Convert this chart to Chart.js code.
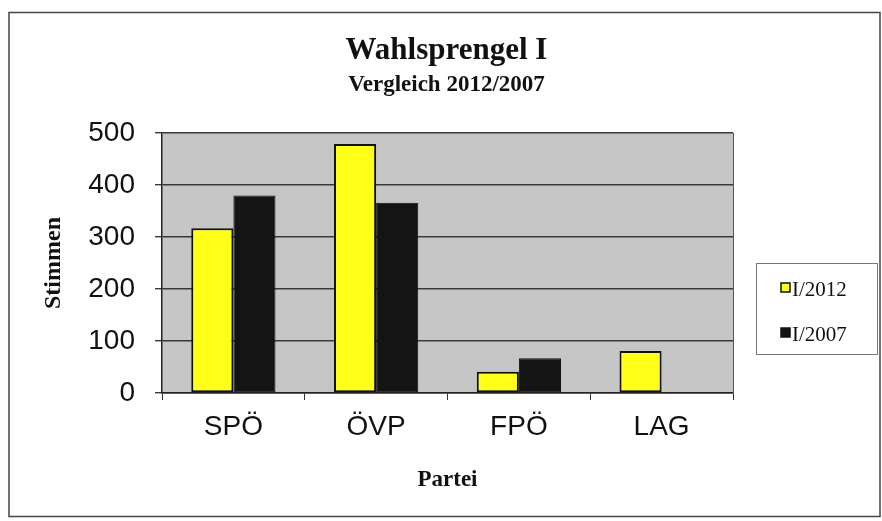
<!DOCTYPE html>
<html lang="de">
<head>
    <meta charset="UTF-8">
    <title>Wahlsprengel I</title>
    <script src="https://cdn.jsdelivr.net/npm/chart.js"></script>
    <style>
        body { margin: 0; background: #fff; }
    </style>
</head>
<body>
    <canvas id="chart" width="882" height="521"></canvas>

    <script>
        // data
        const parteien = ['SPÖ', 'ÖVP', 'FPÖ', 'LAG'];
        const stimmen2012 = [317, 479, 41, 81];
        const stimmen2007 = [380, 366, 67, null];
        const yTicks = [0, 100, 200, 300, 400, 500];
        const titel = 'Wahlsprengel I';
        const untertitel = 'Vergleich 2012/2007';

        const serif = '"Liberation Serif", "Times New Roman", serif';
        const sans = '"Liberation Sans", Arial, sans-serif';

        // gray plot background, titles, outer frame and legend box
        const decor = {
            id: 'decor',
            beforeDraw(chart) {
                const { ctx, chartArea: a } = chart;
                ctx.save();
                ctx.fillStyle = '#c6c6c6';
                ctx.fillRect(a.left, a.top, a.right - a.left, a.bottom - a.top);
                ctx.restore();
            },
            afterDraw(chart) {
                const { ctx, chartArea: a } = chart;
                const cx = (a.left + a.right) / 2;
                ctx.save();
                // titles
                ctx.fillStyle = '#111';
                ctx.textAlign = 'center';
                ctx.textBaseline = 'alphabetic';
                ctx.font = 'bold 31px ' + serif;
                ctx.fillText(titel, cx - 1, 59);
                ctx.font = 'bold 23px ' + serif;
                ctx.fillText(untertitel, cx - 1, 91);
                // right edge of plot
                ctx.strokeStyle = '#555';
                ctx.lineWidth = 1;
                ctx.beginPath();
                ctx.moveTo(a.right + 0.5, a.top);
                ctx.lineTo(a.right + 0.5, a.bottom);
                ctx.stroke();
                // outer frame
                ctx.strokeStyle = '#444';
                ctx.lineWidth = 1.5;
                ctx.strokeRect(9, 12.5, 871, 504);
                // legend
                ctx.strokeStyle = '#777';
                ctx.lineWidth = 1;
                ctx.strokeRect(756.5, 263.5, 121, 91);
                ctx.font = '21px ' + serif;
                ctx.textAlign = 'left';
                chart.data.datasets.forEach((ds, i) => {
                    const base = 296 + i * 45;
                    ctx.fillStyle = ds.backgroundColor;
                    ctx.fillRect(781, base - 13, 9, 9);
                    ctx.strokeStyle = '#111';
                    ctx.lineWidth = 1.5;
                    ctx.strokeRect(781, base - 13, 9, 9);
                    ctx.fillStyle = '#111';
                    ctx.fillText(ds.label, 792, base);
                });
                ctx.restore();
            }
        };

        new Chart(document.getElementById('chart'), {
            type: 'bar',
            data: {
                labels: parteien,
                datasets: [{
                    label: 'I/2012',
                    data: stimmen2012,
                    backgroundColor: '#ffff1a',
                    borderColor: '#111',
                    borderWidth: 2,
                    borderSkipped: false
                }, {
                    label: 'I/2007',
                    data: stimmen2007,
                    backgroundColor: '#141414',
                    borderColor: '#111',
                    borderWidth: 1,
                    borderSkipped: false
                }]
            },
            options: {
                responsive: false,
                animation: false,
                layout: { padding: { left: 8, right: 149, top: 133, bottom: 0 } },
                datasets: { bar: { categoryPercentage: 0.59, barPercentage: 1 } },
                plugins: {
                    legend: { display: false },
                    tooltip: { enabled: false },
                    title: { display: false }
                },
                scales: {
                    x: {
                        afterFit(axis) { axis.height = 128; },
                        grid: { drawOnChartArea: false, color: '#333', tickLength: 7, offset: true },
                        border: { color: '#222', width: 1.5 },
                        ticks: { color: '#111', font: { family: sans, size: 28 }, padding: 10 },
                        title: {
                            display: true, text: 'Partei', color: '#111',
                            font: { family: serif, size: 23, weight: 'bold' },
                            padding: { top: 0, bottom: 27 }
                        }
                    },
                    y: {
                        min: 0,
                        max: 500,
                        afterFit(axis) { axis.width = 154; },
                        afterBuildTicks(axis) { axis.ticks = yTicks.map(v => ({ value: v })); },
                        grid: { color: '#3a3a3a', lineWidth: 1.4, tickLength: 7 },
                        border: { color: '#222', width: 1.5 },
                        ticks: { color: '#111', font: { family: sans, size: 28 }, padding: 20 },
                        title: {
                            display: true, text: 'Stimmen', color: '#111',
                            font: { family: serif, size: 24, weight: 'bold' },
                            padding: { top: 31, bottom: 0 }
                        }
                    }
                }
            },
            plugins: [decor]
        });
    </script>
</body>
</html>
